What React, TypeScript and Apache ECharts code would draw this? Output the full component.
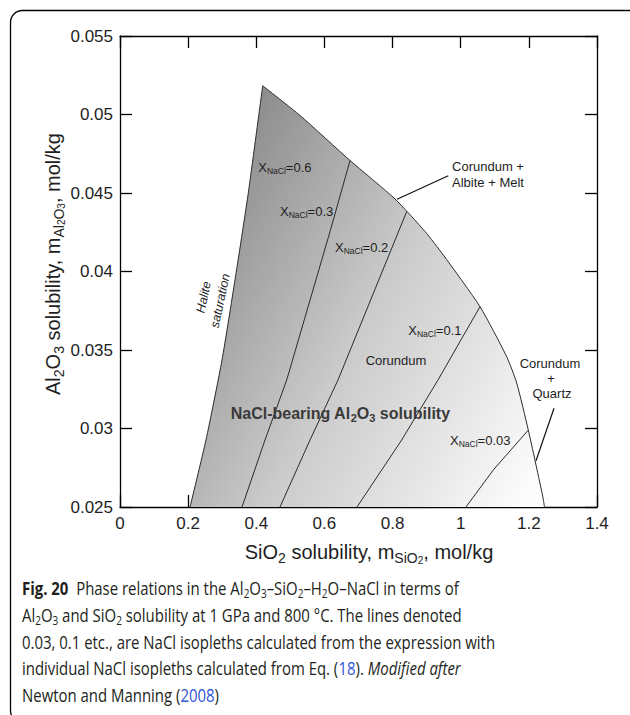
import React, { useEffect, useRef } from "react";
import * as echarts from "echarts";

// ---------- data ----------
const X_MIN = 0;
const X_MAX = 1.4;
const X_STEP = 0.2;
const Y_MIN = 0.025;
const Y_MAX = 0.055;
const Y_STEP = 0.005;

// Halite saturation boundary (bottom -> top vertex)
const HALITE_SATURATION: number[][] = [
  [0.2055, 0.025],
  [0.2524, 0.02927],
  [0.2994, 0.03436],
  [0.3375, 0.03946],
  [0.3757, 0.04487],
  [0.4188, 0.05183],
];

// Corundum + Albite + Melt / Corundum + Quartz boundary (top vertex -> bottom)
const UPPER_BOUNDARY: number[][] = [
  [0.4188, 0.05183],
  [0.5283, 0.04994],
  [0.6751, 0.04707],
  [0.8071, 0.04462],
  [0.8952, 0.04255],
  [0.9489, 0.04105],
  [1.0566, 0.03776],
  [1.135, 0.03457],
  [1.1643, 0.0329],
  [1.1984, 0.0299],
  [1.2406, 0.0257],
  [1.2459, 0.025],
];

// NaCl isopleths (top -> bottom)
const ISOPLETH_03: number[][] = [
  [0.6751, 0.04707],
  [0.6164, 0.04254],
  [0.4893, 0.03309],
  [0.4256, 0.02927],
  [0.3581, 0.025],
];
const ISOPLETH_02: number[][] = [
  [0.8415, 0.04382],
  [0.6398, 0.03309],
  [0.5577, 0.02927],
  [0.4696, 0.025],
];
const ISOPLETH_01: number[][] = [
  [1.0566, 0.03776],
  [0.9333, 0.03309],
  [0.8268, 0.02927],
  [0.6956, 0.025],
];
const ISOPLETH_003: number[][] = [
  [1.1984, 0.0299],
  [1.0957, 0.02736],
  [1.0155, 0.025],
];

// annotation arrows [from, to]
const ARROW_ALBITE: number[][] = [
  [0.9636, 0.0461],
  [0.813, 0.0446],
];
const ARROW_QUARTZ: number[][] = [
  [1.2738, 0.03129],
  [1.221, 0.02795],
];

// ---------- styles ----------
const FONT = "'Liberation Sans', Arial, Helvetica, sans-serif";
const CAP_FONT = "'Open Sans', 'Noto Sans', sans-serif";
const LINE_COLOR = "#2b2b2b";
const TEXT_COLOR = "#1e1e1e";
const GRAD_FROM = [0.37, 0.0524];
const GRAD_TO = [1.52, 0.0388];
const GRAD_STOPS = [
  { offset: 0, color: "#878787" },
  { offset: 0.5, color: "#cbcbcb" },
  { offset: 1, color: "#fcfcfc" },
];

const REGION = [...HALITE_SATURATION, ...UPPER_BOUNDARY.slice(1)];

const axisRich = {
  n: { fontSize: 20, fontFamily: FONT, fill: TEXT_COLOR, lineHeight: 26 },
  s: { fontSize: 14, fontFamily: FONT, fill: TEXT_COLOR, lineHeight: 14, verticalAlign: "bottom" },
  ss: { fontSize: 10, fontFamily: FONT, fill: TEXT_COLOR, lineHeight: 6, verticalAlign: "bottom" },
};

const labelRich = {
  x: { fontSize: 13, fontFamily: FONT, fill: TEXT_COLOR, lineHeight: 16 },
  xs: { fontSize: 8.5, fontFamily: FONT, fill: TEXT_COLOR, lineHeight: 8, verticalAlign: "bottom" },
};

const boldRich = {
  b: { fontSize: 16, fontFamily: FONT, fontWeight: "bold", fill: "#3a3a3a", lineHeight: 20 },
  bs: { fontSize: 11, fontFamily: FONT, fontWeight: "bold", fill: "#3a3a3a", lineHeight: 11, verticalAlign: "bottom" },
};

const CAP_SIZE = 18;
const CAP_COLOR = "#231f20";
const capRich = {
  n: { fontSize: CAP_SIZE, fontFamily: CAP_FONT, fill: CAP_COLOR, lineHeight: 22 },
  b: { fontSize: CAP_SIZE, fontFamily: CAP_FONT, fontWeight: "bold", fill: CAP_COLOR, lineHeight: 22 },
  s: { fontSize: 12, fontFamily: CAP_FONT, fill: CAP_COLOR, lineHeight: 11, verticalAlign: "bottom" },
  l: { fontSize: CAP_SIZE, fontFamily: CAP_FONT, fill: "#2f55d4", lineHeight: 22 },
  i: { fontSize: CAP_SIZE, fontFamily: CAP_FONT, fontStyle: "italic", fill: CAP_COLOR, lineHeight: 22 },
};

const CAPTION_LINES = [
  "{b|Fig. 20}{n|  Phase relations in the Al}{s|2}{n|O}{s|3}{n|–SiO}{s|2}{n|–H}{s|2}{n|O–NaCl in terms of}",
  "{n|Al}{s|2}{n|O}{s|3}{n| and SiO}{s|2}{n| solubility at 1 GPa and 800 °C. The lines denoted}",
  "{n|0.03, 0.1 etc., are NaCl isopleths calculated from the expression with}",
  "{n|individual NaCl isopleths calculated from Eq. (}{l|18}{n|). }{i|Modified after}",
  "{n|Newton and Manning (}{l|2008}{n|)}",
];
const CAPTION_Y = [588, 615, 642, 668, 695];

function xLabel(v: string, x: number, y: number) {
  return {
    type: "text",
    x,
    y,
    z: 100,
    silent: true,
    style: {
      text: `{x|X}{xs|NaCl}{x|=${v}}`,
      rich: labelRich,
      align: "left",
      verticalAlign: "middle",
    },
  };
}

function plainText(text: string, x: number, y: number, align = "center") {
  return {
    type: "text",
    x,
    y,
    z: 100,
    silent: true,
    style: {
      text,
      fontSize: 13,
      fontFamily: FONT,
      fill: TEXT_COLOR,
      align,
      verticalAlign: "middle",
    },
  };
}

function lineSeries(data: number[][], extra: any = {}) {
  return {
    type: "line",
    data,
    symbol: "none",
    showSymbol: false,
    smooth: false,
    silent: true,
    z: 3,
    lineStyle: { color: LINE_COLOR, width: 1 },
    ...extra,
  };
}

export default function App() {
  const ref = useRef<HTMLDivElement>(null);

  useEffect(() => {
    if (!ref.current) return;
    const chart = echarts.init(ref.current, null, { renderer: "svg" });

    const axisLine = { show: true, onZero: false, lineStyle: { color: "#000", width: 1.3 } };
    const axisTick = { show: true, inside: true, length: 12, lineStyle: { color: "#000", width: 1.3 } };

    const option: any = {
      animation: false,
      backgroundColor: "#fff",
      grid: { left: 120, right: 33, top: 36, bottom: 208, containLabel: false },
      xAxis: [
        {
          type: "value",
          min: X_MIN,
          max: X_MAX,
          interval: X_STEP,
          position: "bottom",
          axisLine,
          axisTick,
          splitLine: { show: false },
          axisLabel: {
            fontSize: 17,
            fontFamily: FONT,
            color: TEXT_COLOR,
            margin: 8,
            formatter: (v: number) => String(parseFloat(v.toFixed(1))),
          },
        },
        {
          type: "value",
          min: X_MIN,
          max: X_MAX,
          interval: X_STEP,
          position: "top",
          axisLine,
          axisTick,
          splitLine: { show: false },
          axisLabel: { show: false },
        },
      ],
      yAxis: [
        {
          type: "value",
          min: Y_MIN,
          max: Y_MAX,
          interval: Y_STEP,
          position: "left",
          axisLine,
          axisTick,
          splitLine: { show: false },
          axisLabel: {
            fontSize: 17,
            fontFamily: FONT,
            color: TEXT_COLOR,
            margin: 7,
            formatter: (v: number) => String(parseFloat(v.toFixed(3))),
          },
        },
        {
          type: "value",
          min: Y_MIN,
          max: Y_MAX,
          interval: Y_STEP,
          position: "right",
          axisLine,
          axisTick,
          splitLine: { show: false },
          axisLabel: { show: false },
        },
      ],
      series: [
        {
          type: "custom",
          data: [0],
          silent: true,
          z: 1,
          renderItem: (_params: any, api: any) => {
            const pts = REGION.map((p) => api.coord(p));
            const g0 = api.coord(GRAD_FROM);
            const g1 = api.coord(GRAD_TO);
            return {
              type: "polygon",
              shape: { points: pts },
              style: {
                fill: new echarts.graphic.LinearGradient(g0[0], g0[1], g1[0], g1[1], GRAD_STOPS, true),
                stroke: "none",
              },
            };
          },
        },
        lineSeries(HALITE_SATURATION, { smooth: 0.2 }),
        lineSeries(UPPER_BOUNDARY, {
          smooth: 0.2,
          markLine: {
            silent: true,
            animation: false,
            symbol: ["none", "arrow"],
            symbolSize: [0, 11],
            label: { show: false },
            lineStyle: { color: "#111", width: 1.2, type: "solid" },
            emphasis: { disabled: true },
            data: [
              [{ coord: ARROW_ALBITE[0] }, { coord: ARROW_ALBITE[1] }],
              [{ coord: ARROW_QUARTZ[0] }, { coord: ARROW_QUARTZ[1] }],
            ],
          },
        }),
        lineSeries(ISOPLETH_03),
        lineSeries(ISOPLETH_02),
        lineSeries(ISOPLETH_01),
        lineSeries(ISOPLETH_003),
      ],
      graphic: [
        {
          type: "rect",
          silent: true,
          z: 100,
          shape: { x: 10.5, y: 10.5, width: 640, height: 712, r: 12 },
          style: { fill: "none", stroke: "#000", lineWidth: 1.3 },
        },
        // axis titles
        {
          type: "text",
          x: 369,
          y: 552,
          z: 100,
          silent: true,
          style: {
            text: "{n|SiO}{s|2}{n| solubility, m}{s|SiO}{ss|2}{n|, mol/kg}",
            rich: axisRich,
            align: "center",
            verticalAlign: "middle",
          },
        },
        {
          type: "text",
          x: 53,
          y: 264,
          z: 100,
          rotation: Math.PI / 2,
          silent: true,
          style: {
            text: "{n|Al}{s|2}{n|O}{s|3}{n| solubility, m}{s|Al}{ss|2}{s|O}{ss|3}{n|, mol/kg}",
            rich: axisRich,
            align: "center",
            verticalAlign: "middle",
          },
        },
        // isopleth labels
        xLabel("0.6", 258.3, 167),
        xLabel("0.3", 280, 211),
        xLabel("0.2", 335, 247),
        xLabel("0.1", 408.3, 330),
        xLabel("0.03", 450, 440),
        plainText("Corundum", 396, 360),
        plainText("Corundum +", 488, 166),
        plainText("Albite + Melt", 488, 182),
        plainText("Corundum", 550, 363),
        plainText("+", 551, 378),
        plainText("Quartz", 552, 393),
        {
          type: "text",
          x: 230.7,
          y: 413.5,
          z: 100,
          silent: true,
          style: {
            text: "{b|NaCl-bearing Al}{bs|2}{b|O}{bs|3}{b| solubility}",
            rich: boldRich,
            align: "left",
            verticalAlign: "middle",
          },
        },
        {
          type: "text",
          x: 212,
          y: 299,
          z: 100,
          rotation: 1.36,
          silent: true,
          style: {
            text: "Halite\nsaturation",
            fontSize: 12.5,
            fontStyle: "italic",
            fontFamily: FONT,
            fill: TEXT_COLOR,
            lineHeight: 17,
            align: "center",
            verticalAlign: "middle",
          },
        },
        // caption
        {
          type: "group",
          x: 22,
          y: 0,
          z: 100,
          scaleX: 0.83,
          silent: true,
          children: CAPTION_LINES.map((t, i) => ({
            type: "text",
            x: 0,
            y: CAPTION_Y[i],
            z: 100,
            style: { text: t, rich: capRich, align: "left", verticalAlign: "middle" },
          })),
        },
      ],
    };

    chart.setOption(option);
    return () => chart.dispose();
  }, []);

  return (
    <div
      ref={ref}
      style={{ position: "absolute", left: 0, top: 0, width: 630, height: 715, background: "#fff" }}
    />
  );
}
